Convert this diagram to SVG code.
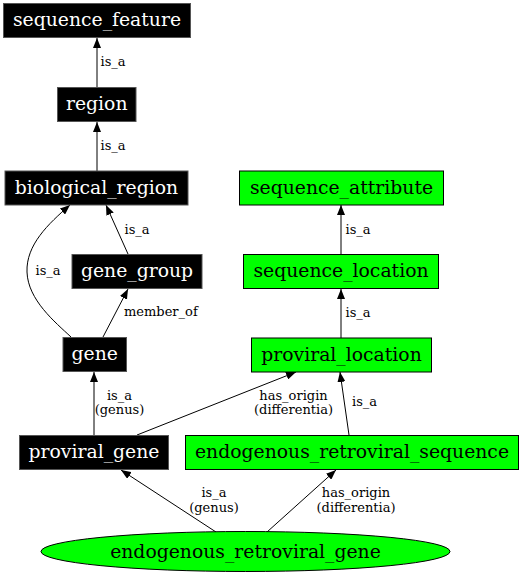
<svg xmlns="http://www.w3.org/2000/svg" width="528" height="576" viewBox="0 0 528 576">
<style>
.bk rect{fill:#000;stroke:#555;stroke-width:1}
.gr rect,.gr ellipse{fill:#00ff00;stroke:#000;stroke-width:1}
.bk text{fill:#fff}
text{font-family:"DejaVu Serif","Liberation Serif",serif}
.nl{font-size:18.8px;text-anchor:middle}
.el{font-size:13px;fill:#000}
.m{text-anchor:middle}
#edges path{fill:none;stroke:#000;stroke-width:1;marker-end:url(#ah)}
</style>
<defs>
<marker id="ah" markerUnits="userSpaceOnUse" markerWidth="10" markerHeight="8" refX="10" refY="4" orient="auto">
<path d="M0,0 L10,4 L0,8 z" fill="#000"/>
</marker>
</defs>
<rect width="528" height="576" fill="#fff"/>
<g id="edges">
<path d="M97,87 L97,38"/>
<path d="M97,171 L97,122"/>
<path d="M128,254 L106,205"/>
<path d="M71,337 C55,322 28,300 27,272 C26,245 48,224 70,205"/>
<path d="M103,337 L128,289"/>
<path d="M94,435 L94,372"/>
<path d="M137,435 L296,372"/>
<path d="M341,254 L341,205"/>
<path d="M341,338 L341,289"/>
<path d="M349,435 L340,372"/>
<path d="M216,532 L121,470"/>
<path d="M267,532 L336,470"/>
<text class="el" x="100.5" y="66">is_a</text>
<text class="el" x="100.5" y="150">is_a</text>
<text class="el" x="124.5" y="234">is_a</text>
<text class="el" x="35.5" y="275">is_a</text>
<text class="el" x="124" y="316">member_of</text>
<text class="el m" x="119.5" y="400">is_a</text>
<text class="el m" x="119.5" y="414">(genus)</text>
<text class="el m" x="293.5" y="399.5">has_origin</text>
<text class="el m" x="293.5" y="414">(differentia)</text>
<text class="el" x="345.5" y="234">is_a</text>
<text class="el" x="345.5" y="317">is_a</text>
<text class="el" x="352" y="406">is_a</text>
<text class="el m" x="214" y="497">is_a</text>
<text class="el m" x="214" y="512">(genus)</text>
<text class="el m" x="356" y="497">has_origin</text>
<text class="el m" x="356" y="512">(differentia)</text>
</g>
<g id="sequence_feature" class="bk"><rect x="3.5" y="3.5" width="187" height="34"/><text class="nl" x="97" y="26">sequence_feature</text></g>
<g id="region" class="bk"><rect x="57.5" y="87.5" width="78.5" height="34"/><text class="nl" x="96.75" y="110">region</text></g>
<g id="biological_region" class="bk"><rect x="5" y="171" width="183" height="34"/><text class="nl" x="96.5" y="193.5">biological_region</text></g>
<g id="gene_group" class="bk"><rect x="72" y="254.5" width="130" height="34"/><text class="nl" x="137" y="277">gene_group</text></g>
<g id="gene" class="bk"><rect x="63" y="337.5" width="63.5" height="34"/><text class="nl" x="94.75" y="360">gene</text></g>
<g id="proviral_gene" class="bk"><rect x="19.5" y="435.5" width="149" height="34"/><text class="nl" x="94" y="458">proviral_gene</text></g>
<g id="sequence_attribute" class="gr"><rect x="239.5" y="171" width="204" height="34"/><text class="nl" x="341.5" y="193.5">sequence_attribute</text></g>
<g id="sequence_location" class="gr"><rect x="243.5" y="254.5" width="195" height="34"/><text class="nl" x="341" y="277">sequence_location</text></g>
<g id="proviral_location" class="gr"><rect x="251.5" y="338" width="180" height="34"/><text class="nl" x="341.5" y="360.5">proviral_location</text></g>
<g id="endogenous_retroviral_sequence" class="gr"><rect x="185.5" y="435.5" width="333" height="34"/><text class="nl" x="352" y="458">endogenous_retroviral_sequence</text></g>
<g id="endogenous_retroviral_gene" class="gr"><ellipse cx="245.5" cy="551.5" rx="204.5" ry="20"/><text class="nl" x="245.5" y="557.5">endogenous_retroviral_gene</text></g>
</svg>
